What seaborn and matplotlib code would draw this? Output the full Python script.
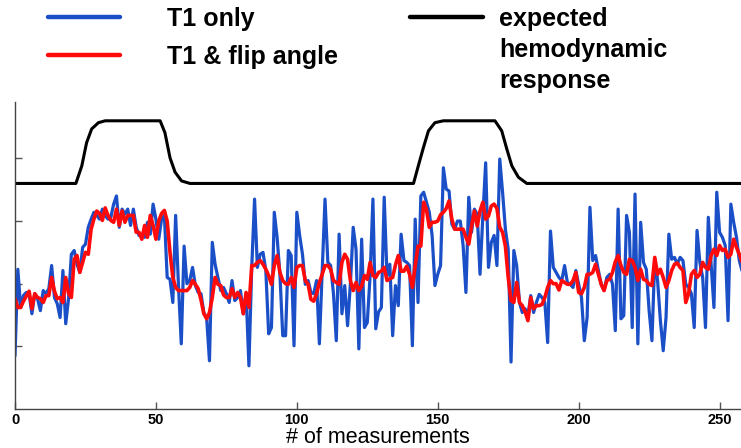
import numpy as np
import pandas as pd
import matplotlib
matplotlib.use("Agg")
import matplotlib.pyplot as plt
from matplotlib.lines import Line2D
import seaborn as sns

# ---------------- data ----------------
t1_only = [
    0.85, 2.23, 1.62, 1.81, 1.86, 1.84, 1.52, 1.84, 1.76, 1.57,
    1.89, 1.84, 1.92, 2.29, 1.78, 1.68, 1.46, 2.21, 1.36, 1.76,
    2.47, 2.53, 2.31, 2.18, 2.58, 2.63, 2.90, 3.03, 3.14, 3.09,
    3.03, 3.19, 3.09, 3.03, 3.06, 3.27, 3.40, 2.90, 3.19, 3.11,
    3.19, 2.93, 3.19, 2.90, 2.77, 2.79, 2.74, 2.98, 2.79, 3.27,
    3.03, 2.71, 3.03, 3.09, 2.10, 2.07, 1.70, 3.09, 1.97, 1.04,
    2.60, 2.00, 2.05, 2.26, 1.97, 1.86, 1.84, 1.54, 1.45, 0.77,
    2.66, 2.31, 2.10, 1.89, 1.94, 1.84, 1.70, 2.05, 1.73, 1.78,
    1.89, 1.52, 1.84, 0.69, 2.26, 3.35, 2.26, 2.47, 2.50, 2.21,
    1.20, 1.30, 3.14, 2.74, 2.15, 1.17, 1.17, 2.53, 2.45, 1.01,
    3.14, 2.77, 2.47, 1.99, 2.05, 1.86, 1.84, 2.05, 1.04, 2.21,
    3.35, 2.34, 2.29, 1.84, 1.09, 2.79, 1.52, 1.97, 1.33, 1.99,
    2.90, 2.55, 0.96, 2.71, 1.30, 1.38, 2.13, 3.35, 1.28, 1.55,
    1.62, 3.38, 2.13, 2.31, 1.17, 1.97, 1.65, 2.79, 2.37, 2.34,
    2.29, 1.01, 3.03, 1.70, 3.40, 3.46, 3.30, 3.14, 2.77, 1.97,
    2.15, 2.29, 3.85, 3.51, 3.48, 2.95, 2.87, 3.00, 3.00, 2.61,
    1.86, 3.38, 2.82, 3.19, 3.11, 2.15, 3.08, 3.93, 2.26, 2.66,
    2.77, 2.29, 3.99, 3.46, 2.87, 2.55, 0.75, 2.53, 2.29, 1.70,
    1.54, 1.60, 1.49, 1.81, 1.54, 1.70, 1.83, 1.78, 1.70, 1.06,
    2.84, 2.26, 2.18, 2.10, 2.05, 2.29, 2.02, 1.99, 1.94, 2.21,
    1.99, 1.78, 1.09, 1.46, 3.22, 2.37, 2.45, 2.21, 1.99, 1.89,
    2.10, 2.15, 1.99, 1.25, 3.19, 1.44, 1.49, 3.09, 2.82, 1.30,
    3.43, 1.04, 2.98, 2.34, 2.23, 1.57, 1.09, 2.39, 2.05, 1.41,
    0.93, 1.46, 2.79, 2.39, 2.42, 2.31, 2.42, 2.37, 1.99, 1.94,
    1.84, 1.30, 2.85, 2.34, 2.10, 1.30, 3.06, 2.31, 1.62, 3.46,
    2.82, 2.74, 2.61, 1.41, 3.27, 2.98, 2.74, 2.37, 2.20,
]

t1_flip = [
    1.76, 1.62, 1.62, 1.72, 1.80, 1.88, 1.60, 1.84, 1.78, 1.76,
    1.70, 1.81, 1.81, 2.10, 1.88, 1.76, 1.78, 1.70, 2.10, 1.84,
    1.78, 2.39, 2.45, 2.18, 2.34, 2.50, 2.47, 2.87, 3.03, 3.16,
    3.12, 3.01, 3.21, 3.09, 3.01, 2.98, 3.19, 2.93, 3.16, 2.98,
    3.09, 3.09, 3.09, 2.82, 2.82, 2.71, 2.93, 2.74, 3.09, 2.93,
    2.71, 3.00, 3.12, 3.17, 3.00, 2.50, 2.10, 1.94, 1.89, 1.89,
    1.89, 1.89, 1.94, 2.05, 1.99, 1.92, 1.74, 1.52, 1.44, 1.54,
    1.78, 2.10, 1.99, 1.97, 1.82, 1.78, 1.78, 1.92, 1.78, 1.86,
    1.78, 1.52, 1.86, 1.62, 2.29, 2.29, 2.34, 2.37, 2.31, 2.23,
    2.13, 1.99, 2.29, 2.45, 2.18, 2.05, 2.00, 1.99, 2.10, 1.94,
    2.26, 2.29, 2.29, 2.05, 1.99, 1.75, 1.72, 1.84, 2.02, 2.15,
    2.29, 2.29, 2.23, 2.05, 2.02, 1.99, 2.34, 2.47, 2.39, 2.05,
    1.89, 2.02, 1.89, 1.96, 2.13, 2.07, 2.34, 2.13, 2.10, 2.18,
    2.20, 2.26, 2.05, 2.08, 2.10, 2.30, 2.45, 2.20, 2.20, 2.28,
    2.15, 1.94, 2.29, 2.60, 2.60, 3.30, 3.18, 2.90, 2.98, 2.98,
    3.00, 3.10, 3.14, 3.20, 3.32, 3.03, 2.87, 2.87, 2.87, 2.87,
    2.74, 2.63, 2.92, 3.16, 2.92, 3.16, 3.30, 3.03, 3.08, 3.24,
    3.27, 3.20, 2.90, 2.82, 2.60, 2.10, 1.73, 1.70, 2.02, 1.70,
    1.65, 1.55, 1.41, 1.78, 1.60, 1.65, 1.65, 1.67, 1.78, 1.94,
    2.05, 2.00, 2.00, 1.90, 2.05, 2.02, 1.99, 1.99, 2.05, 2.18,
    1.86, 1.84, 1.94, 2.15, 2.15, 2.18, 2.31, 2.15, 1.99, 1.89,
    2.05, 2.07, 2.18, 2.35, 2.45, 2.29, 2.18, 2.15, 2.39, 2.37,
    2.26, 2.05, 2.23, 2.07, 2.05, 1.99, 1.97, 2.42, 2.15, 2.23,
    2.10, 1.94, 2.05, 2.21, 2.31, 2.33, 2.26, 2.21, 1.70, 1.84,
    2.15, 2.21, 2.10, 2.15, 2.34, 2.26, 2.23, 2.45, 2.55, 2.45,
    2.61, 2.53, 2.55, 2.42, 2.47, 2.71, 2.58, 2.47, 2.34,
]

hrf_x = [0, 21.6, 23.7, 25.4, 27.2, 29.6, 32.0, 51.5, 53.2, 55.0, 56.8, 59.1, 62.1,
         141.4, 143.1, 144.9, 146.7, 149.0, 152.0, 170.3, 172.7, 174.5, 176.3, 178.6,
         181.6, 260]
hrf_y = [3.60, 3.60, 3.88, 4.25, 4.47, 4.57, 4.60, 4.60, 4.41, 4.01, 3.78, 3.64, 3.60,
         3.60, 3.88, 4.17, 4.44, 4.57, 4.60, 4.60, 4.44, 4.15, 3.88, 3.70,
         3.60, 3.60]

x_ticks = [0, 50, 100, 150, 200, 250]
labels = ["T1 only", "T1 & flip angle", "expected\nhemodynamic\nresponse"]
x_label = "# of measurements"

# ---------------- styling ----------------
sns.set_style("white")
plt.rcParams["font.family"] = ["Liberation Sans", "DejaVu Sans"]
plt.rcParams["text.color"] = "black"
plt.rcParams["axes.labelcolor"] = "black"
plt.rcParams["xtick.color"] = "black"
plt.rcParams["ytick.color"] = "black"

BLUE = "#1a4fc8"
RED = "#ff0a0a"
BLACK = "#000000"

AX_BOTTOM_PX = 409
AX_TOP_PX = 102

fig = plt.figure(figsize=(7.41, 4.48), dpi=100)
ax = fig.add_axes([15 / 741, (448 - AX_BOTTOM_PX) / 448, 726 / 741,
                   (AX_BOTTOM_PX - AX_TOP_PX) / 448])

n = np.arange(len(t1_only))
df = pd.DataFrame({"measurement": n, "t1": t1_only, "t1flip": t1_flip})
hrf = pd.DataFrame({"measurement": hrf_x, "hrf": hrf_y})

sns.lineplot(data=df, x="measurement", y="t1", ax=ax, color=BLUE,
             linewidth=2.3, legend=False)
sns.lineplot(data=df, x="measurement", y="t1flip", ax=ax, color=RED,
             linewidth=2.6, legend=False)
sns.lineplot(data=hrf, x="measurement", y="hrf", ax=ax, color=BLACK,
             linewidth=2.2, legend=False)
for ln in ax.lines:
    ln.set_solid_joinstyle("round")

ax.set_xlim(0, 257.6)
ax.set_ylim(0, 4.9)
ax.set_xticks(x_ticks)
ax.set_xticklabels([str(v) for v in x_ticks], fontsize=10.5, fontweight="bold",
                   color="black")
ax.set_yticks([1, 2, 3, 4])
ax.set_yticklabels([])
ax.tick_params(axis="both", which="major", direction="in", length=5, width=1,
               color="#555555", bottom=True, left=True, top=False, right=False)
ax.tick_params(axis="x", pad=3)
ax.set_ylabel("")
ax.set_xlabel(x_label, fontsize=15.5, color="black")
ax.xaxis.label.set_va("baseline")
ax.xaxis.set_label_coords(0.5, (AX_BOTTOM_PX - 443) / (AX_BOTTOM_PX - AX_TOP_PX))

for side in ["top", "right"]:
    ax.spines[side].set_visible(False)
for side in ["left", "bottom"]:
    ax.spines[side].set_color("#444444")
    ax.spines[side].set_linewidth(1.0)

# ---------------- legend (manual layout) ----------------
def fx(px):
    return px / 741

def fy(py):
    return 1 - py / 448

fig.add_artist(Line2D([fx(48), fx(120)], [fy(17), fy(17)], color=BLUE, lw=3.2))
fig.add_artist(Line2D([fx(48), fx(120)], [fy(55), fy(55)], color=RED, lw=3.2))
fig.add_artist(Line2D([fx(410), fx(483)], [fy(17), fy(17)], color=BLACK, lw=3.2))
fig.text(fx(167), fy(26), labels[0], fontsize=18, fontweight="bold", va="baseline")
fig.text(fx(167), fy(64), labels[1], fontsize=18, fontweight="bold", va="baseline")
fig.text(fx(499), fy(7), labels[2], fontsize=18, fontweight="bold", va="top",
         linespacing=1.36)

fig.savefig("out.png", dpi=100)
